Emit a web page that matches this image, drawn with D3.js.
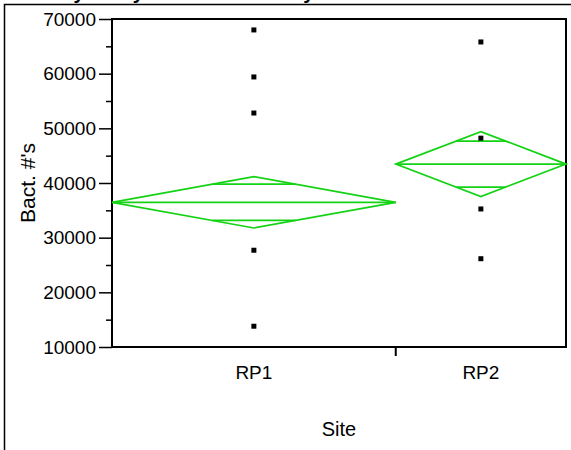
<!DOCTYPE html>
<html>
<head>
<meta charset="utf-8">
<script src="https://cdn.jsdelivr.net/npm/d3@7"></script>
<style>
  html, body { margin: 0; padding: 0; background: #fff; overflow: hidden; }
  svg { display: block; font-family: "Liberation Sans", Arial, sans-serif; }
</style>
</head>
<body>
<div class="oneway"></div>
<script>
// data
var sites = ["RP1", "RP2"];
var siteN = [10, 6];                       // group sizes (set the width of each group)
var siteMean = [36470, 43460];
var ciLow = [31770, 37520];
var ciHigh = [41170, 49400];
var rp1Values = [68000, 59400, 52800, 27700, 13800];
var rp2Values = [65800, 48200, 35250, 26150];
var yTicks = [10000, 20000, 30000, 40000, 50000, 60000, 70000];
var yMinorTicks = [15000, 25000, 35000, 45000, 55000, 65000];
var titleText = "Oneway Analysis of Bact. #'s By Site";

var width = 571, height = 450;
var margin = { top: 19, right: 5, bottom: 103, left: 112 };
var green = "#14d214";

var svg = d3.select(".oneway")
  .append("svg")
    .attr("width", width)
    .attr("height", height);

// report title, mostly scrolled off the top (only descenders peek out)
svg.append("text")
    .attr("x", 8)
    .attr("y", -1)
    .style("font-size", "20px")
    .style("font-weight", "bold")
    .text(titleText);

// outer report frame
svg.append("path")
    .attr("d", "M4.5," + height + "V4.5H" + width)
    .attr("fill", "none")
    .attr("stroke", "#000")
    .attr("stroke-width", 1.5);

var plotW = width - margin.left - margin.right;
var plotH = height - margin.top - margin.bottom;

var g = svg.append("g")
    .attr("transform", "translate(" + margin.left + "," + margin.top + ")");

// x: groups laid side by side, width proportional to n
var total = d3.sum(siteN);
var starts = d3.cumsum([0].concat(siteN)).slice(0, siteN.length);
var x = d3.scaleLinear().domain([0, total]).range([0, plotW]);
var y = d3.scaleLinear().domain([10000, 70000]).range([plotH, 0]);

var groups = sites.map(function(s, i) {
  return {
    site: s,
    x0: x(starts[i]),
    x1: x(starts[i] + siteN[i]),
    mean: siteMean[i],
    lo: ciLow[i],
    hi: ciHigh[i],
    values: i == 0 ? rp1Values : rp2Values
  };
});

// plot box
g.append("rect")
    .attr("width", plotW)
    .attr("height", plotH)
    .attr("fill", "none")
    .attr("stroke", "#000")
    .attr("stroke-width", 2);

// y axis, major + minor ticks
var yAxis = g.append("g")
    .call(d3.axisLeft(y).tickValues(yTicks).tickSize(13).tickPadding(3).tickFormat(d3.format("d")));
yAxis.select(".domain").remove();
yAxis.selectAll("line").attr("stroke-width", 1.5);
yAxis.selectAll("text")
    .style("font-size", "19px")
    .style("font-family", "Liberation Sans, Arial, sans-serif")
    .attr("fill", "#000");

var yMinor = g.append("g")
    .call(d3.axisLeft(y).tickValues(yMinorTicks).tickSize(6).tickFormat(""));
yMinor.select(".domain").remove();
yMinor.selectAll("line").attr("stroke-width", 1.5);

// x axis: tick between groups
g.selectAll(".xtick")
    .data(groups.slice(1))
    .enter().append("line")
      .attr("class", "xtick")
      .attr("x1", function(d) { return d.x0; })
      .attr("x2", function(d) { return d.x0; })
      .attr("y1", plotH)
      .attr("y2", plotH + 9)
      .attr("stroke", "#000")
      .attr("stroke-width", 2);

g.selectAll(".xlab")
    .data(groups)
    .enter().append("text")
      .attr("class", "xlab")
      .attr("x", function(d) { return (d.x0 + d.x1) / 2; })
      .attr("y", plotH + 32)
      .attr("text-anchor", "middle")
      .style("font-size", "19px")
      .text(function(d) { return d.site; });

// axis titles
g.append("text")
    .attr("x", plotW / 2)
    .attr("y", plotH + 89)
    .attr("text-anchor", "middle")
    .style("font-size", "20px")
    .text("Site");

g.append("text")
    .attr("transform", "rotate(-90)")
    .attr("x", -plotH / 2)
    .attr("y", -77)
    .attr("text-anchor", "middle")
    .style("font-size", "21px")
    .text("Bact. #'s");

// means diamonds
var diamonds = g.selectAll(".diamond")
    .data(groups)
    .enter().append("g")
      .attr("class", "diamond")
      .attr("fill", "none")
      .attr("stroke", green)
      .attr("stroke-width", 1.7);

diamonds.append("path")
    .attr("d", function(d) {
      var cx = (d.x0 + d.x1) / 2;
      return "M" + d.x0 + "," + y(d.mean) +
             "L" + cx + "," + y(d.hi) +
             "L" + d.x1 + "," + y(d.mean) +
             "L" + cx + "," + y(d.lo) + "Z";
    });

diamonds.append("line")
    .attr("x1", function(d) { return d.x0; })
    .attr("x2", function(d) { return d.x1; })
    .attr("y1", function(d) { return y(d.mean); })
    .attr("y2", function(d) { return y(d.mean); });

// overlap marks at mean +/- half CI / sqrt(2)
diamonds.each(function(d) {
  var half = (d.hi - d.lo) / 2;
  var cx = (d.x0 + d.x1) / 2;
  var hw = (d.x1 - d.x0) / 2 * (1 - Math.SQRT1_2);
  var sel = d3.select(this);
  [d.mean + half * Math.SQRT1_2, d.mean - half * Math.SQRT1_2].forEach(function(v) {
    sel.append("line")
      .attr("x1", cx - hw)
      .attr("x2", cx + hw)
      .attr("y1", y(v))
      .attr("y2", y(v));
  });
});

// raw points
var pts = [];
groups.forEach(function(d) {
  d.values.forEach(function(v) { pts.push({ cx: (d.x0 + d.x1) / 2, v: v }); });
});
g.selectAll(".pt")
    .data(pts)
    .enter().append("rect")
      .attr("class", "pt")
      .attr("x", function(d) { return d.cx - 2.5; })
      .attr("y", function(d) { return y(d.v) - 2.5; })
      .attr("width", 5)
      .attr("height", 5)
      .attr("fill", "#000");
</script>
</body>
</html>
